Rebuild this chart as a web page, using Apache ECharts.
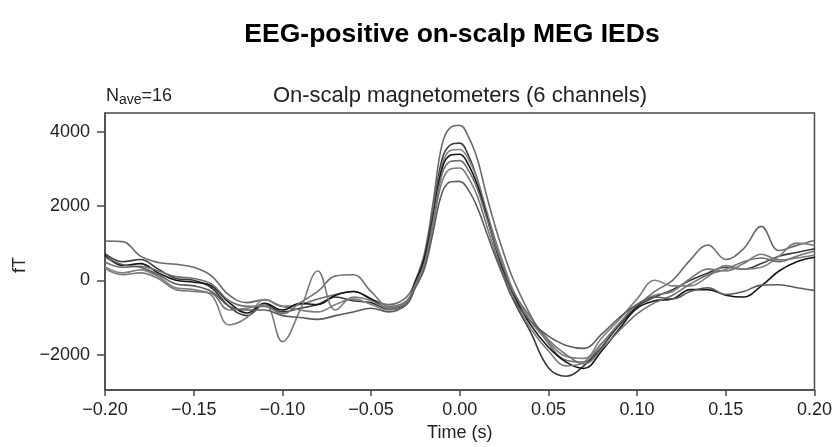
<!DOCTYPE html>
<html>
<head>
<meta charset="utf-8">
<style>
  html, body { margin: 0; padding: 0; background: #fff; }
  #chart { width: 835px; height: 447px; }
</style>
<script src="https://cdn.jsdelivr.net/npm/echarts@6/dist/echarts.min.js"></script>
</head>
<body>
<div id="chart"></div>
<script>
// time axis (s), finer around the spike
var time = [-0.20, -0.19, -0.18, -0.17, -0.16, -0.15, -0.14, -0.13, -0.12, -0.11,
  -0.10, -0.09, -0.08, -0.07, -0.06, -0.05, -0.04, -0.03,
  -0.025, -0.02, -0.015, -0.01, -0.005, 0, 0.005, 0.01, 0.015, 0.02, 0.025,
  0.03, 0.04, 0.05, 0.06, 0.07, 0.08, 0.09, 0.10, 0.11, 0.12, 0.13, 0.14,
  0.15, 0.16, 0.17, 0.18, 0.19, 0.20];

// field per channel (fT)
var ch1 = [1057, 1040, 650, 480, 430, 350, 120, -400, -600, -520, -700, -650, -500, -380, -300, -500, -650, -450,
  0, 700, 2100, 3650, 4120, 4170, 3850, 3250, 2300, 1450, 700,
  50, -950, -1700, -2150, -2200, -1700, -1200, -700, -300, 0, 550, 950, 560, 850, 1450, 800, 940, 1070];
var ch2 = [717, 500, 560, 300, 50, 0, -200, -700, -950, -650, -850, -750, -650, -450, -550, -600, -780, -600,
  -50, 600, 1850, 3250, 3650, 3690, 3350, 2700, 1800, 900, 150,
  -500, -1400, -2350, -2580, -2300, -1800, -1200, -700, -450, -250, 0, 200, 350, 300, 450, 650, 750, 850];
var ch3 = [360, 200, 280, 100, -200, -250, -400, -1200, -1000, -520, -700, -800, -850, -650, -500, -650, -800, -650,
  -100, 500, 1750, 3100, 3500, 3520, 3250, 2700, 1900, 1100, 400,
  -250, -1100, -1650, -2050, -2100, -1550, -1050, -500, 0, -150, -150, 100, 400, 300, 350, 650, 1000, 940];
var ch4 = [672, 400, 450, 200, 0, -50, -150, -600, -880, -620, -800, -620, -650, -400, -300, -500, -750, -600,
  -50, 550, 1700, 3000, 3370, 3390, 3100, 2550, 1750, 950, 250,
  -350, -1200, -1800, -2200, -2370, -1900, -1300, -750, -550, -500, -250, -250, -400, -450, -150, 250, 500, 620];
var ch5 = [494, 350, 380, 250, 100, 50, -100, -550, -700, -700, -900, -600, -300, 120, 150, -300, -700, -550,
  -100, 450, 1600, 2850, 3200, 3220, 2950, 2450, 1700, 950, 300,
  -300, -1000, -1600, -2000, -2250, -1850, -1350, -900, -600, -400, -100, 150, 300, 500, 600, 500, 650, 790];
var ch6 = [314, 150, 200, 50, -250, -300, -350, -800, -750, -650, -1650, -800, 250, -800, -450, -550, -750, -600,
  -150, 400, 1500, 2650, 3000, 3020, 2750, 2250, 1500, 750, 100,
  -450, -1300, -1900, -2300, -2200, -1700, -1150, -650, -400, -300, 50, 300, 250, 450, 700, 550, 600, 680];
var ch7 = [628, 420, 350, 150, -100, -150, -300, -700, -800, -800, -950, -1000, -1050, -950, -850, -750, -850, -650,
  -200, 300, 1300, 2350, 2650, 2660, 2420, 1950, 1300, 650, 50,
  -500, -1100, -1500, -1750, -1830, -1450, -1000, -650, -450, -500, -300, -200, -380, -300, -130, -120, -200, -270];

var channels = [ch1, ch2, ch3, ch4, ch5, ch6, ch7];
var lineColors = ["#6a6a6a", "#3a3a3a", "#808080", "#151515", "#707070", "#7a7a7a", "#5c5c5c"];
var yTicks = [-2000, 0, 2000, 4000];

var font = "Liberation Sans, Arial, Helvetica, sans-serif";
var minus = function(s) { return String(s).replace("-", "\u2212"); };

var myChart = echarts.init(document.getElementById("chart"));
myChart.setOption({
  animation: false,
  textStyle: { fontFamily: font },
  grid: {
    left: 105, right: 19, top: 113, bottom: 55,
    show: true, borderColor: "#4a4a4a", borderWidth: 1.5
  },
  graphic: [
    {
      type: "text", x: 452, y: 35,
      style: {
        text: "EEG-positive on-scalp MEG IEDs", align: "center", verticalAlign: "middle",
        fontFamily: font, fontSize: 26.5, fontWeight: "bold", fill: "#000"
      }
    },
    {
      type: "text", x: 460, y: 96,
      style: {
        text: "On-scalp magnetometers (6 channels)", align: "center", verticalAlign: "middle",
        fontFamily: font, fontSize: 22, fill: "#222"
      }
    },
    {
      type: "text", x: 106, y: 96,
      style: {
        text: "{n|N}{s|ave}{n|=16}", align: "left", verticalAlign: "middle",
        rich: {
          n: { fontFamily: font, fontSize: 18, fill: "#222" },
          s: { fontFamily: font, fontSize: 14, fill: "#222", padding: [9, 0, 0, 0] }
        }
      }
    },
    {
      type: "text", x: 20, y: 265, rotation: Math.PI / 2,
      style: {
        text: "fT", align: "center", verticalAlign: "middle",
        fontFamily: font, fontSize: 18, fill: "#222"
      }
    }
  ],
  xAxis: {
    type: "value",
    min: -0.2, max: 0.2, interval: 0.05,
    name: "Time (s)", nameLocation: "middle", nameGap: 34,
    nameTextStyle: { fontFamily: font, fontSize: 18, color: "#222" },
    axisLine: { onZero: false, lineStyle: { color: "#4a4a4a", width: 1.5 } },
    axisTick: { show: true, inside: false, length: 6, lineStyle: { color: "#4a4a4a", width: 1.5 } },
    axisLabel: {
      margin: 11, fontSize: 18, color: "#222", fontFamily: font,
      formatter: function(v) { return minus(v.toFixed(2)); }
    },
    splitLine: { show: false }
  },
  yAxis: {
    type: "value",
    min: -2950, max: 4500,
    axisLine: { show: true, onZero: false, lineStyle: { color: "#4a4a4a", width: 1.5 } },
    axisTick: { show: true, inside: false, length: 8, customValues: yTicks, lineStyle: { color: "#4a4a4a", width: 1.5 } },
    axisLabel: {
      margin: 15, fontSize: 18, color: "#222", fontFamily: font, customValues: yTicks,
      formatter: function(v) { return minus(v); }
    },
    splitLine: { show: false }
  },
  series: channels.map(function(ch, i) {
    return {
      name: "ch" + (i + 1),
      type: "line",
      smooth: 0.4,
      showSymbol: false,
      lineStyle: { color: lineColors[i], width: 1.6 },
      data: time.map(function(t, j) { return [t, ch[j]]; })
    };
  })
});
</script>
</body>
</html>
